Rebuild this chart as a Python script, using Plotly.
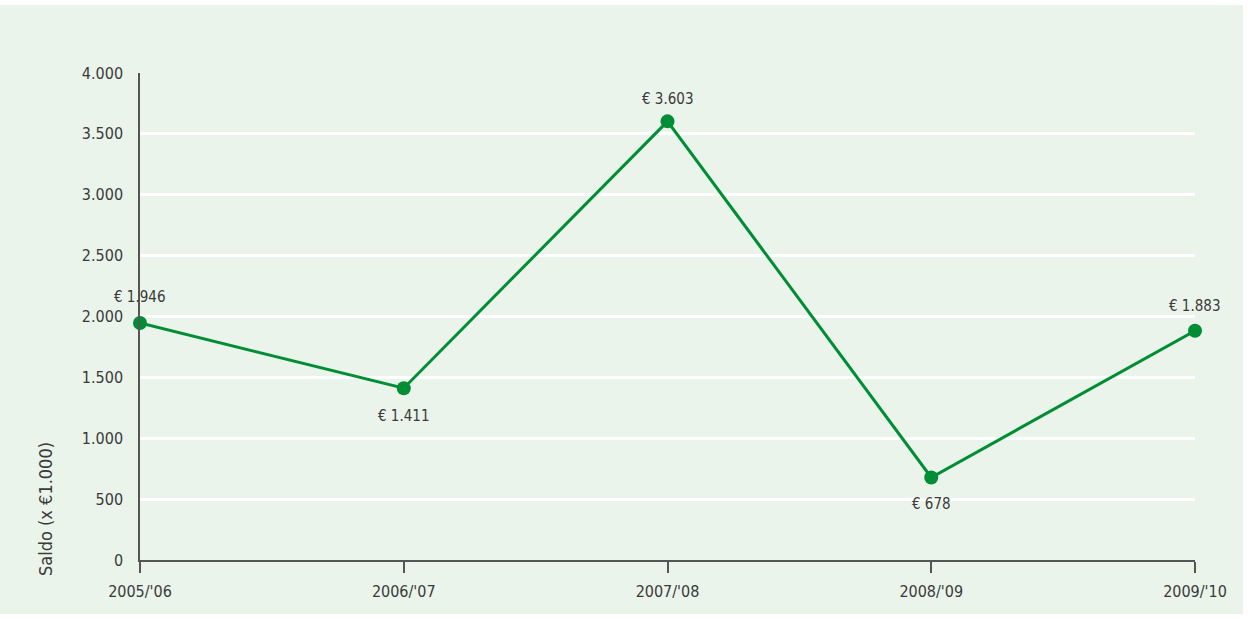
import plotly.graph_objects as go

categories = ["2005/'06", "2006/'07", "2007/'08", "2008/'09", "2009/'10"]
values = [1946, 1411, 3603, 678, 1883]
labels = ["€ 1.946", "€ 1.411", "€ 3.603", "€ 678", "€ 1.883"]
label_shift = [26, -28, 22, -27, 25]
y_ticks = [0, 500, 1000, 1500, 2000, 2500, 3000, 3500, 4000]
y_ticktext = ["0", "500", "1.000", "1.500", "2.000", "2.500", "3.000", "3.500", "4.000"]

FONT = "DejaVu Sans Condensed, Liberation Sans Narrow, sans-serif"
GREEN = "#008d36"
TXT = "#3a3a3a"

fig = go.Figure()
fig.add_trace(go.Scatter(
    x=categories, y=values, mode="lines+markers",
    line=dict(color=GREEN, width=3),
    marker=dict(color=GREEN, size=14),
    cliponaxis=False, hoverinfo="skip",
))
for c, v, t, s in zip(categories, values, labels, label_shift):
    fig.add_annotation(x=c, y=v, text=t, showarrow=False, yshift=s,
                       font=dict(family=FONT, size=15, color=TXT))

fig.add_shape(type="rect", xref="paper", yref="paper", layer="below",
              x0=-140/1055, x1=(1243-140)/1055, y0=-54/487, y1=(560-5)/487,
              fillcolor="#eaf4ea", line=dict(width=0))

fig.add_annotation(xref="paper", yref="paper", x=(45-140)/1055, y=(560-509)/487,
                   text="Saldo (x €1.000)", textangle=-90, showarrow=False,
                   xanchor="center", yanchor="middle",
                   font=dict(family=FONT, size=18, color=TXT))

fig.update_layout(
    width=1248, height=619,
    margin=dict(l=140, r=53, t=73, b=59),
    paper_bgcolor="white", plot_bgcolor="rgba(0,0,0,0)",
    showlegend=False,
    font=dict(family=FONT, size=15, color=TXT),
)
fig.update_xaxes(
    type="category", range=[0, 4], showgrid=False,
    showline=True, linecolor="#555555", linewidth=1.5,
    ticks="outside", ticklen=11, tickcolor="#555555", tickwidth=1.5,
    ticklabelstandoff=5,
    tickfont=dict(family=FONT, size=16, color=TXT),
)
fig.update_yaxes(
    range=[0, 4000], tickvals=y_ticks, ticktext=y_ticktext,
    showgrid=True, gridcolor="white", gridwidth=2.5,
    showline=True, linecolor="#555555", linewidth=1.5,
    zeroline=False, ticks="", ticklabelstandoff=12,
    tickfont=dict(family=FONT, size=16, color=TXT),
)
fig.write_html("out.html")
